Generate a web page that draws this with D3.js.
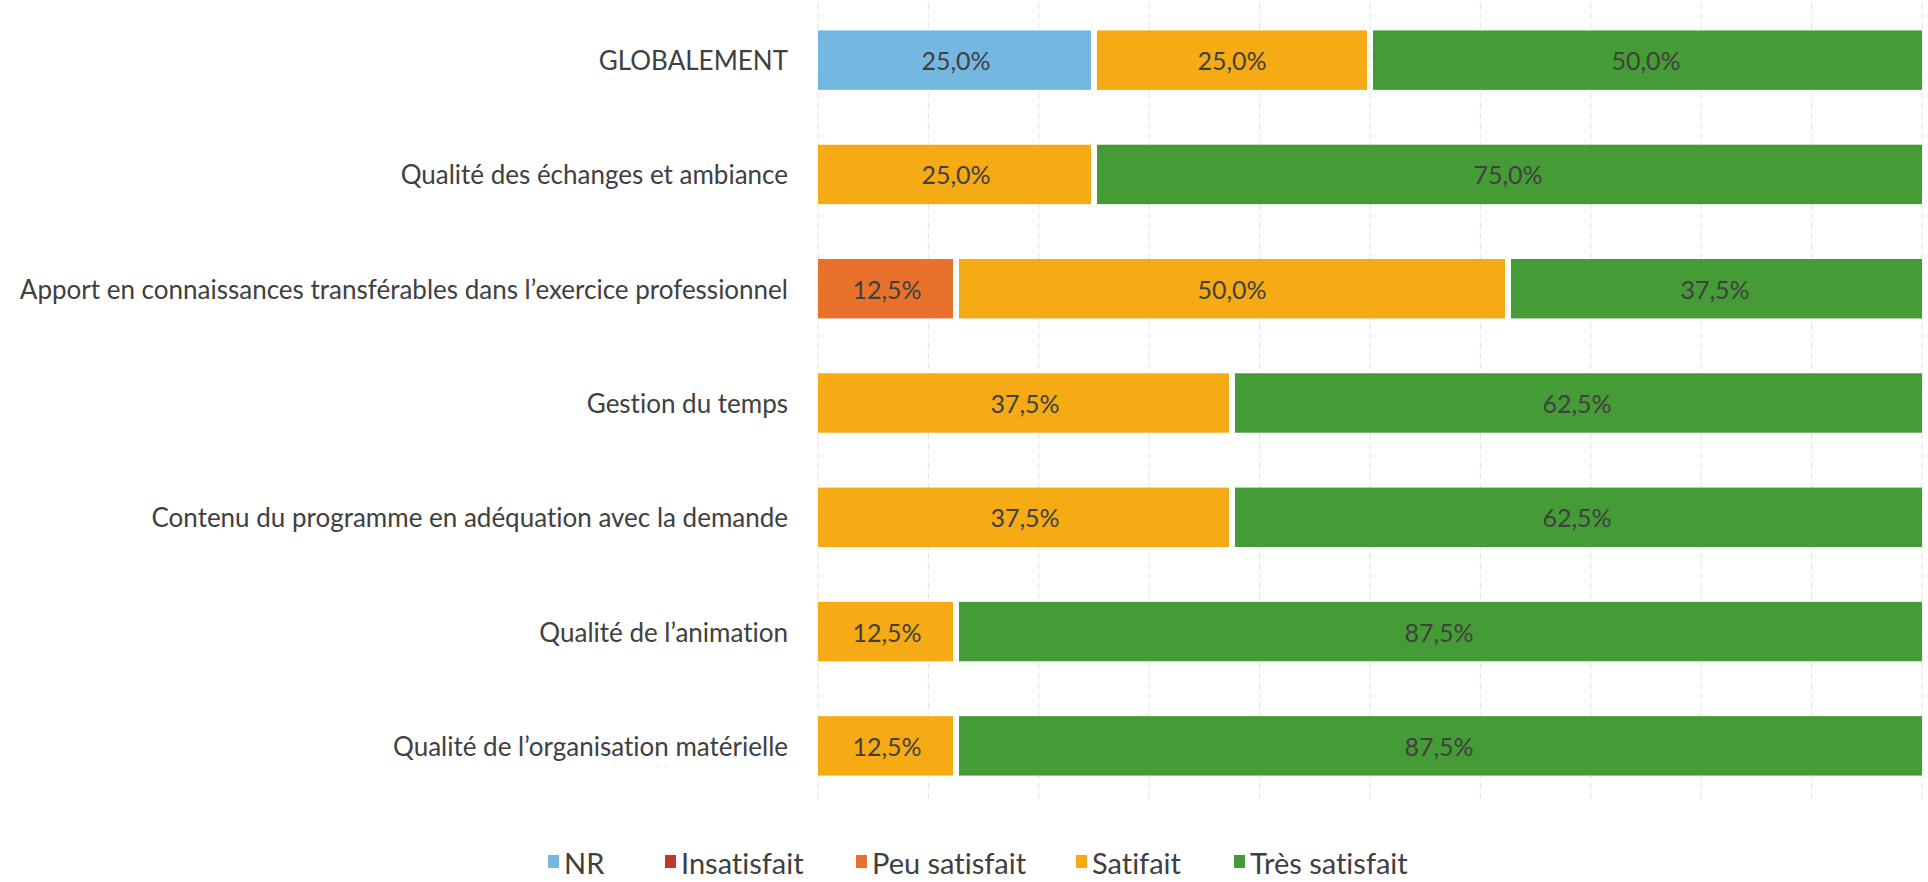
<!DOCTYPE html>
<html>
<head>
<meta charset="utf-8">
<script src="https://cdn.jsdelivr.net/npm/d3@7"></script>
<style>
  body { margin: 0; background: #fff; }
  svg text { font-family: Lato, "Open Sans", sans-serif; fill: #404040; font-variant-ligatures: none; }
</style>
</head>
<body>
<svg id="chart" width="1928" height="882"></svg>
<script>
// categories, top to bottom
var categories = [
  "GLOBALEMENT",
  "Qualité des échanges et ambiance",
  "Apport en connaissances transférables dans l’exercice professionnel",
  "Gestion du temps",
  "Contenu du programme en adéquation avec la demande",
  "Qualité de l’animation",
  "Qualité de l’organisation matérielle"
];
var seriesNames = ["NR", "Insatisfait", "Peu satisfait", "Satifait", "Très satisfait"];
var seriesColors = ["#74b8e2", "#c5352a", "#e8722b", "#f6aa14", "#459b36"];
// percentages per series, same order as categories
var nr          = [25, 0, 0, 0, 0, 0, 0];
var insatisfait = [0, 0, 0, 0, 0, 0, 0];
var peuSatisfait = [0, 0, 12.5, 0, 0, 0, 0];
var satisfait   = [25, 25, 50, 37.5, 37.5, 12.5, 12.5];
var tresSatisfait = [50, 75, 37.5, 62.5, 62.5, 87.5, 87.5];
var ticks = [0, 10, 20, 30, 40, 50, 60, 70, 80, 90, 100];

var seriesValues = [nr, insatisfait, peuSatisfait, satisfait, tresSatisfait];

var svg = d3.select('#chart');
var plot = { left: 818, right: 1922, top: 3, bottom: 803 };
var gap = 3; // white seam between stacked pieces

var x = d3.scaleLinear().domain([0, 100]).range([plot.left, plot.right]);
var y = d3.scaleBand().domain(categories).range([plot.top, plot.bottom]).paddingInner(0.48).paddingOuter(0.24);

// faint dashed gridlines
svg.append('g').selectAll('line').data(ticks).join('line')
  .attr('x1', function (d) { return x(d); }).attr('x2', function (d) { return x(d); })
  .attr('y1', plot.top).attr('y2', plot.bottom)
  .attr('stroke', '#e2e2e2').attr('stroke-width', 1).attr('stroke-dasharray', '6,4');

// build stacked rows from the arrays
var rows = categories.map(function (c, i) {
  var row = { cat: c };
  seriesNames.forEach(function (s, k) { row[s] = seriesValues[k][i]; });
  return row;
});
var stacked = d3.stack().keys(seriesNames)(rows);

var pieces = [];
stacked.forEach(function (layer, k) {
  layer.forEach(function (d) {
    var v = d[1] - d[0];
    if (v > 0) pieces.push({ k: k, cat: d.data.cat, x0: d[0], x1: d[1], v: v });
  });
});

var bars = svg.append('g');
bars.selectAll('rect').data(pieces).join('rect')
  .attr('x', function (d) { return x(d.x0) + (d.x0 > 0 ? gap : 0); })
  .attr('width', function (d) { return x(d.x1) - x(d.x0) - (d.x0 > 0 ? gap : 0) - (d.x1 < 100 ? gap : 0); })
  .attr('y', function (d) { return y(d.cat); })
  .attr('height', y.bandwidth())
  .attr('fill', function (d) { return seriesColors[d.k]; });

var fmt = function (v) { return d3.format('.1f')(v).replace('.', ',') + '%'; };
bars.selectAll('text').data(pieces).join('text')
  .attr('x', function (d) { return (x(d.x0) + x(d.x1)) / 2; })
  .attr('y', function (d) { return y(d.cat) + y.bandwidth() / 2; })
  .attr('text-anchor', 'middle').attr('dominant-baseline', 'central')
  .style('font-size', '25px')
  .text(function (d) { return fmt(d.v); });

// category labels
svg.append('g').selectAll('text').data(categories).join('text')
  .attr('x', plot.left - 30)
  .attr('y', function (d) { return y(d) + y.bandwidth() / 2; })
  .attr('text-anchor', 'end').attr('dominant-baseline', 'central')
  .style('font-size', '26px')
  .text(function (d) { return d; });

// legend
var legendX = [548, 665, 856, 1076, 1234];
var legend = svg.append('g').selectAll('g').data(seriesNames).join('g')
  .attr('transform', function (d, i) { return 'translate(' + legendX[i] + ',862)'; });
legend.append('rect').attr('x', 0).attr('y', -7).attr('width', 11).attr('height', 13)
  .attr('fill', function (d, i) { return seriesColors[i]; });
legend.append('text').attr('x', 16).attr('y', 0).attr('dominant-baseline', 'central')
  .style('font-size', '29px')
  .text(function (d) { return d; });
</script>
</body>
</html>
